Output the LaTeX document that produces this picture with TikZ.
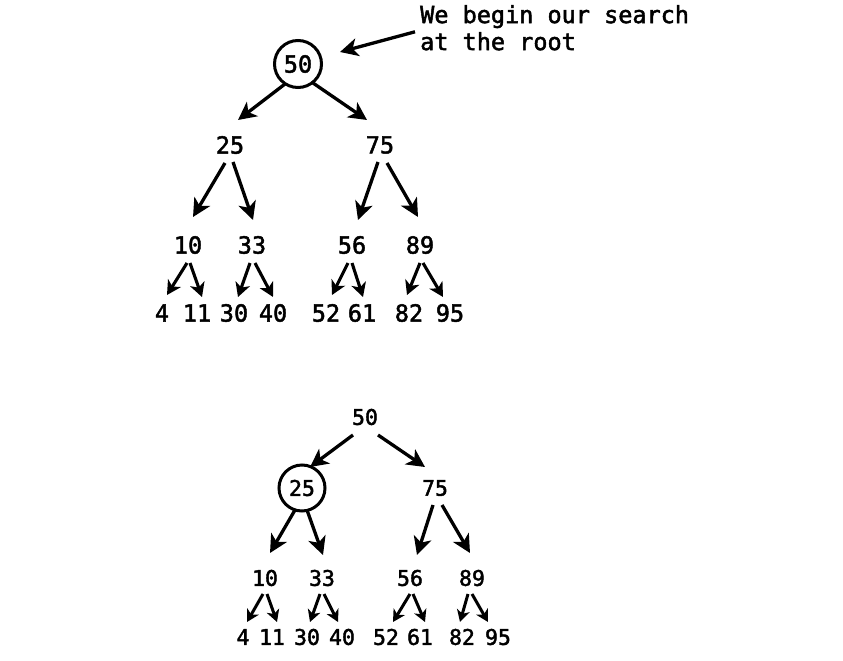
\documentclass[tikz,border=0pt]{standalone}
\usepackage{fontspec}
\newfontfamily\djm{DejaVu Sans Mono}[FakeBold=2]
\usetikzlibrary{arrows.meta,calc}
\begin{document}
\begin{tikzpicture}[x=1pt,y=-1pt,
  lbl/.style={font=\fontsize{23.5}{27}\selectfont\djm, inner sep=1pt},
  lbls/.style={font=\fontsize{21.5}{25}\selectfont\djm, inner sep=1pt},
  ring/.style={circle, draw, line width=3pt, inner sep=0pt},
  arr/.style={line width=3.3pt, -{Stealth[length=18pt,width=18pt,inset=5pt]}},
  leafarr/.style={line width=3.1pt, -{Stealth[length=14pt,width=15pt,inset=4pt]}},
  smallarr/.style={line width=3pt, -{Stealth[length=12pt,width=13pt,inset=3.5pt]}}]
\useasboundingbox (0,0) rectangle (843,661);
% ---- top tree ----
\node[ring, minimum size=47pt, lbl, inner sep=0pt] (root) at (298,64) {50};
\node[lbl, anchor=north west, align=left, inner sep=0pt] (ann) at (420,5) {We begin our search\\at the root};
\node[lbl] (a25) at (230,145) {25};
\node[lbl] (a75) at (380,145) {75};
\node[lbl] (a10) at (188,245) {10};
\node[lbl] (a33) at (252,245) {33};
\node[lbl] (a56) at (352,245) {56};
\node[lbl] (a89) at (420,245) {89};
\node[lbl] (a4)  at (162,313) {4};
\node[lbl] (a11) at (197,313) {11};
\node[lbl] (a30) at (234,313) {30};
\node[lbl] (a40) at (273,313) {40};
\node[lbl] (a52) at (326,313) {52};
\node[lbl] (a61) at (362,313) {61};
\node[lbl] (a82) at (409,313) {82};
\node[lbl] (a95) at (450,313) {95};
\draw[arr] ($(ann.west)+(-5,4)$) -- ($(root)+(42,-12)$);
\draw[arr] ($(root)+(-13,20)$) -- ($(a25)+(8,-25)$);
\draw[arr] ($(root)+(15,19)$) -- ($(a75)+(-13,-25)$);
\draw[arr] ($(a25)+(-5,18)$) -- ($(a10)+(5,-28)$);
\draw[arr] ($(a25)+(3,17)$) -- ($(a33)+(1,-25)$);
\draw[arr] ($(a75)+(-2,17)$) -- ($(a56)+(6,-25)$);
\draw[arr] ($(a75)+(7,18)$) -- ($(a89)+(-2,-28)$);
\draw[leafarr] ($(a10)+(-1,18)$) -- ($(a4)+(5,-18)$);
\draw[leafarr] ($(a10)+(2,18)$) -- ($(a11)+(5,-16)$);
\draw[leafarr] ($(a33)+(-2,18)$) -- ($(a30)+(4,-16)$);
\draw[leafarr] ($(a33)+(3,18)$) -- ($(a40)+(0,-16)$);
\draw[leafarr] ($(a56)+(-4,18)$) -- ($(a52)+(6,-18)$);
\draw[leafarr] ($(a56)+(0,18)$) -- ($(a61)+(1,-16)$);
\draw[leafarr] ($(a89)+(0,18)$) -- ($(a82)+(-2,-18)$);
\draw[leafarr] ($(a89)+(3,18)$) -- ($(a95)+(-7,-16)$);
% ---- bottom tree ----
\node[lbls] (b50) at (365,417) {50};
\node[ring, minimum size=46pt, lbls, inner sep=0pt] (b25) at (302,488) {25};
\node[lbls] (b75) at (435,488) {75};
\node[lbls] (b10) at (265,578) {10};
\node[lbls] (b33) at (322,578) {33};
\node[lbls] (b56) at (410,578) {56};
\node[lbls] (b89) at (472,578) {89};
\node[lbls] (b4)  at (243,637) {4};
\node[lbls] (b11) at (272,637) {11};
\node[lbls] (b30) at (307,637) {30};
\node[lbls] (b40) at (342,637) {40};
\node[lbls] (b52) at (386,637) {52};
\node[lbls] (b61) at (420,637) {61};
\node[lbls] (b82) at (462,637) {82};
\node[lbls] (b95) at (498,637) {95};
\draw[arr] ($(b50)+(-12,18)$) -- ($(b25)+(8,-21)$);
\draw[arr] ($(b50)+(13,18)$) -- ($(b75)+(-10,-21)$);
\draw[arr] ($(b25)+(-7,22)$) -- ($(b10)+(5,-25)$);
\draw[arr] ($(b25)+(5,22)$) -- ($(b33)+(1,-23)$);
\draw[arr] ($(b75)+(-2,17)$) -- ($(b56)+(7,-23)$);
\draw[arr] ($(b75)+(7,17)$) -- ($(b89)+(-2,-25)$);
\draw[smallarr] ($(b10)+(-2,16)$) -- ($(b4)+(4,-15)$);
\draw[smallarr] ($(b10)+(2,16)$) -- ($(b11)+(5,-15)$);
\draw[smallarr] ($(b33)+(-2,16)$) -- ($(b30)+(3,-15)$);
\draw[smallarr] ($(b33)+(2,16)$) -- ($(b40)+(-4,-15)$);
\draw[smallarr] ($(b56)+(0,16)$) -- ($(b52)+(7,-15)$);
\draw[smallarr] ($(b56)+(3,16)$) -- ($(b61)+(5,-15)$);
\draw[smallarr] ($(b89)+(-4,16)$) -- ($(b82)+(-2,-15)$);
\draw[smallarr] ($(b89)+(0,16)$) -- ($(b95)+(-10,-15)$);
\end{tikzpicture}
\end{document}
